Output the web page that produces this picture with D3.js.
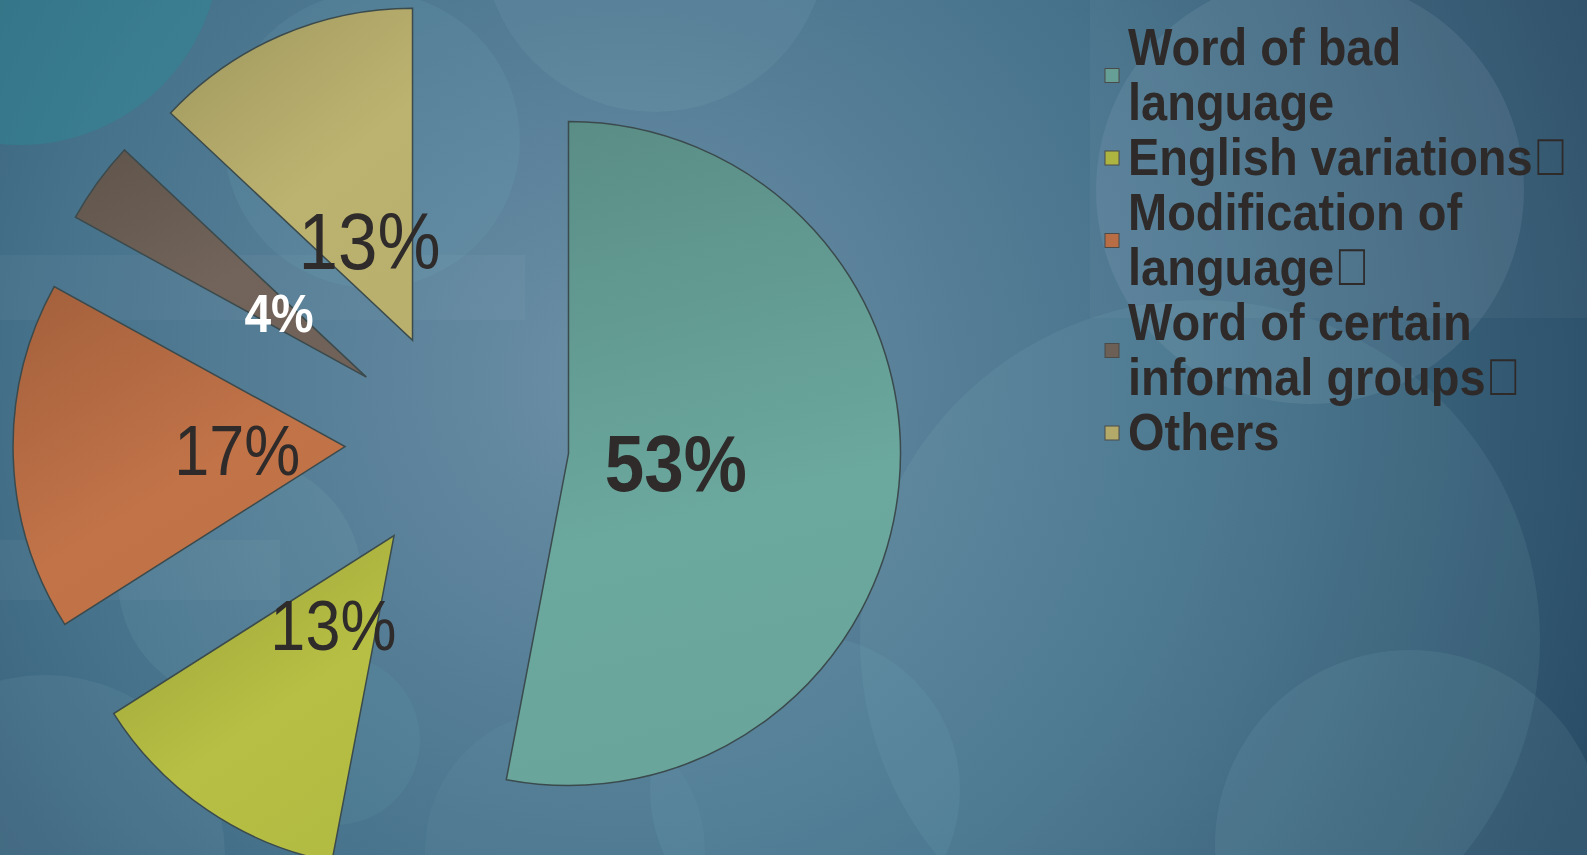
<!DOCTYPE html>
<html><head><meta charset="utf-8">
<script src="https://cdn.jsdelivr.net/npm/d3@7"></script>
<style>html,body{margin:0;padding:0;overflow:hidden;background:#45708a}</style>
</head><body>
<svg id="c" width="1587" height="855"></svg>
<script>
// ---- data ----
const categories = ["Word of bad language", "English variations\uF0A0", "Modification of language\uF0A0", "Word of certain informal groups\uF0A0", "Others"];
const values = [53, 13, 17, 4, 13];
const valueLabels = ["53%", "13%", "17%", "4%", "13%"];

// ---- styles ----
const colors = ["#659f96", "#adb540", "#b86d44", "#6c5f55", "#b3aa6a"];
const labelSizes = [71, 63, 63, 48, 71];
const labelWeights = ["bold", "normal", "normal", "bold", "normal"];
const labelColors = ["#2e2b2a", "#2e2b2a", "#2e2b2a", "#ffffff", "#2e2b2a"];

const W = 1587, H = 855;
const svg = d3.select("#c");
const defs = svg.append("defs");

// background
const bg = defs.append("radialGradient").attr("id", "bg")
  .attr("gradientUnits", "userSpaceOnUse").attr("cx", 620).attr("cy", 380).attr("r", 1050);
bg.append("stop").attr("offset", "0%").attr("stop-color", "#6b8fa6");
bg.append("stop").attr("offset", "55%").attr("stop-color", "#46728b");
bg.append("stop").attr("offset", "100%").attr("stop-color", "#294c65");
svg.append("rect").attr("width", W).attr("height", H).attr("fill", "url(#bg)");

const bands = [[0, 255, 525, 65], [0, 540, 280, 60], [1090, 0, 497, 318]];
svg.selectAll("rect.band").data(bands).join("rect").attr("class", "band")
  .attr("x", d => d[0]).attr("y", d => d[1]).attr("width", d => d[2]).attr("height", d => d[3])
  .attr("fill", "#ffffff").attr("opacity", 0.035);

const circles = [
  [20, -55, 200, "#2c8a96", 0.45],
  [372, 140, 148, "#7fb3c3", 0.12],
  [655, -60, 172, "#8fb8c8", 0.12],
  [1310, 190, 214, "#a9c7d4", 0.12],
  [1200, 640, 340, "#8fc0cc", 0.1],
  [1410, 845, 195, "#8fc0cc", 0.1],
  [45, 855, 180, "#8fb8c8", 0.1],
  [240, 580, 122, "#8fc0cc", 0.1],
  [335, 740, 85, "#6fa9b8", 0.12],
  [805, 790, 155, "#7fb8c4", 0.12],
  [565, 850, 140, "#7fb8c4", 0.08]
];
svg.selectAll("circle.bgc").data(circles).join("circle").attr("class", "bgc")
  .attr("cx", d => d[0]).attr("cy", d => d[1]).attr("r", d => d[2])
  .attr("fill", d => d[3]).attr("opacity", d => d[4]);

// pie
const cx = 457, cy = 443, R = 332, explode = 112;
const pie = d3.pie().sort(null).value(d => d).startAngle(0).endAngle(2 * Math.PI);
const arcs = pie(values);
const arc = d3.arc().innerRadius(0).outerRadius(R);
const labelArc = d3.arc().innerRadius(R * 0.325).outerRadius(R * 0.325);

colors.forEach((c, i) => {
  const g = defs.append("linearGradient").attr("id", "sg" + i)
    .attr("x1", "0").attr("y1", "0").attr("x2", i === 0 ? "0.15" : "0.6").attr("y2", "1");
  g.append("stop").attr("offset", "0%").attr("stop-color", d3.color(c).darker(0.35));
  g.append("stop").attr("offset", "65%").attr("stop-color", d3.color(c).brighter(0.15));
  g.append("stop").attr("offset", "100%").attr("stop-color", d3.color(c).brighter(0.1));
});

const shift = d => {
  const a = (d.startAngle + d.endAngle) / 2;
  return [cx + explode * Math.sin(a), cy - explode * Math.cos(a)];
};

const slices = svg.append("g").selectAll("g").data(arcs).join("g")
  .attr("transform", d => { const s = shift(d); return `translate(${s[0]},${s[1]})`; });
slices.append("path").attr("d", arc)
  .attr("fill", (d, i) => `url(#sg${i})`)
  .attr("stroke", "#3b4a4c").attr("stroke-width", 1.5).attr("stroke-linejoin", "miter");

slices.append("text")
  .attr("transform", d => { const p = labelArc.centroid(d); return `translate(${p[0]},${p[1]}) scale(1,1.12)`; })
  .attr("text-anchor", "middle").attr("dominant-baseline", "central")
  .attr("font-family", "'Liberation Sans', Arial, sans-serif")
  .attr("font-size", (d, i) => labelSizes[i])
  .attr("font-weight", (d, i) => labelWeights[i])
  .attr("fill", (d, i) => labelColors[i])
  .text((d, i) => valueLabels[i]);

// legend
const lx = 1128, lineH = 55, firstBase = 65, maxW = 452, fs = 47;
const legend = svg.append("g");
let line = 0;
categories.forEach((cat, i) => {
  const words = cat.split(" ");
  const lines = [];
  const probe = legend.append("text").attr("font-family", "'Liberation Sans', Arial, sans-serif")
    .attr("font-size", fs).attr("font-weight", "bold");
  let cur = "";
  words.forEach(w => {
    const t = cur ? cur + " " + w : w;
    probe.text(t);
    if (probe.node().getComputedTextLength() > maxW && cur) { lines.push(cur); cur = w; }
    else cur = t;
  });
  lines.push(cur);
  probe.remove();
  const startLine = line;
  lines.forEach((ln, k) => {
    const by = firstBase + (startLine + k) * lineH;
    legend.append("text")
      .attr("transform", `translate(${lx},${by}) scale(1,1.1)`)
      .attr("font-family", "'Liberation Sans', Arial, sans-serif")
      .attr("font-size", fs).attr("font-weight", "bold")
      .attr("fill", "#2e2a29").text(ln);
  });
  line += lines.length;
  const midY = firstBase + (startLine + (lines.length - 1) / 2) * lineH - 17;
  legend.append("rect").attr("x", lx - 23).attr("y", midY - 7).attr("width", 14).attr("height", 14)
    .attr("fill", colors[i]).attr("stroke", "#4a4a48").attr("stroke-width", 1);
});
</script>
</body></html>
